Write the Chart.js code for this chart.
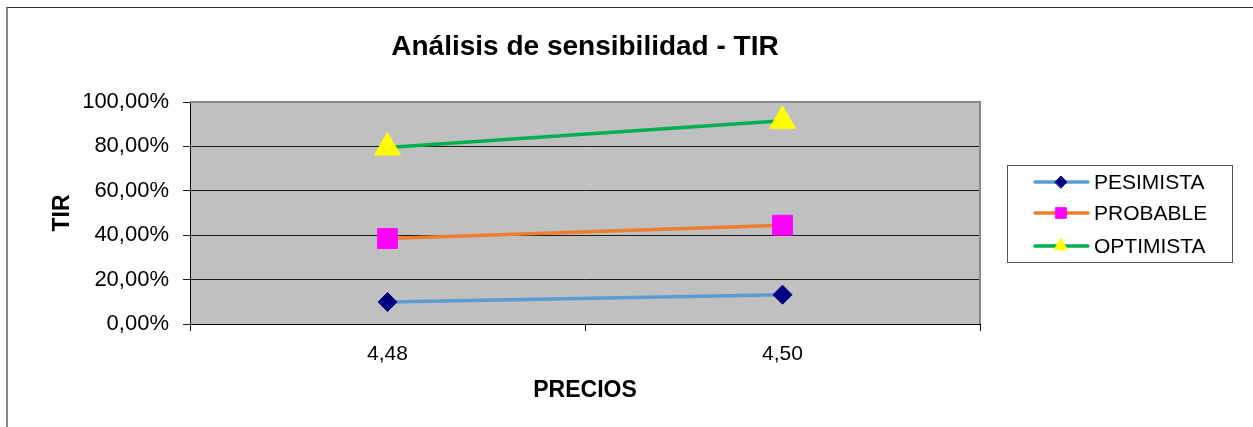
<!DOCTYPE html>
<html>
<head>
<meta charset="utf-8">
<script src="https://cdn.jsdelivr.net/npm/chart.js@4.4.0/dist/chart.umd.min.js"></script>
<style>
  html, body { margin: 0; padding: 0; background: #fff; }
  #wrap { position: relative; width: 1253px; height: 427px; overflow: hidden; }
  #frame { position: absolute; left: 6px; top: 7px; width: 1400px; height: 600px;
           border-left: 2px solid #8a8a8a; border-top: 1px solid #333; }
  #chart { position: absolute; left: 0; top: 0; }
</style>
</head>
<body>
<div id="wrap">
  <div id="frame"></div>
  <canvas id="chart" width="1253" height="427"></canvas>
</div>
<script>
(function () {
  'use strict';

  // data (percent)
  var categories = ['4,48', '4,50'];
  var seriesNames = ['PESIMISTA', 'PROBABLE', 'OPTIMISTA'];
  var pesimista = [9.9, 13.2];
  var probable = [38.5, 44.5];
  var optimista = [79.5, 91.5];
  var yTicks = [0, 20, 40, 60, 80, 100];
  var chartTitle = 'Análisis de sensibilidad - TIR';

  var FONT = "Arial, 'Liberation Sans', sans-serif";

  var styles = [
    { line: '#5b9bd5', marker: '#000080', shape: 'rectRot', r: 9.5 },
    { line: '#ed7d31', marker: '#ff00ff', shape: 'rect', r: 14 },
    { line: '#00b050', marker: '#ffff00', shape: 'triangle', r: 15 }
  ];
  var values = [pesimista, probable, optimista];

  function fmtPct(v) {
    return v.toFixed(2).replace('.', ',') + '%';
  }

  var datasets = seriesNames.map(function (name, i) {
    var s = styles[i];
    return {
      label: name,
      data: values[i],
      borderColor: s.line,
      borderWidth: 3.5,
      backgroundColor: s.marker,
      pointStyle: s.shape,
      pointRadius: s.r,
      pointHoverRadius: s.r,
      pointBackgroundColor: s.marker,
      pointBorderColor: s.marker,
      pointBorderWidth: 1,
      tension: 0
    };
  });

  // grey plot area with its border, and the title centred over it
  var plotArea = {
    id: 'plotArea',
    beforeDraw: function (chart) {
      var a = chart.chartArea, ctx = chart.ctx;
      ctx.save();
      ctx.fillStyle = '#c0c0c0';
      ctx.fillRect(a.left, a.top, a.right - a.left, a.bottom - a.top);
      ctx.fillStyle = '#000';
      ctx.font = 'bold 28px ' + FONT;
      ctx.textAlign = 'center';
      ctx.textBaseline = 'alphabetic';
      ctx.fillText(chartTitle, (a.left + a.right) / 2, 55);
      ctx.restore();
    },
    beforeDatasetsDraw: function (chart) {
      var a = chart.chartArea, ctx = chart.ctx;
      ctx.save();
      ctx.strokeStyle = '#8a8a8a';
      ctx.lineWidth = 2;
      ctx.beginPath();
      ctx.moveTo(a.left, a.top);
      ctx.lineTo(a.right, a.top);
      ctx.lineTo(a.right, a.bottom);
      ctx.stroke();
      ctx.restore();
    }
  };

  // Excel-like legend: line with marker in the middle
  var excelLegend = {
    id: 'excelLegend',
    afterDraw: function (chart) {
      var ctx = chart.ctx;
      var bx = 1007, by = 165, bw = 225, bh = 97;
      ctx.save();
      ctx.fillStyle = '#fff';
      ctx.fillRect(bx, by, bw, bh);
      ctx.strokeStyle = '#555';
      ctx.lineWidth = 1;
      ctx.strokeRect(bx + 0.5, by + 0.5, bw, bh);
      var rows = [182, 213, 246];
      chart.data.datasets.forEach(function (ds, i) {
        var y = rows[i];
        ctx.strokeStyle = ds.borderColor;
        ctx.lineWidth = 3.5;
        ctx.lineCap = 'round';
        ctx.beginPath();
        ctx.moveTo(1035, y);
        ctx.lineTo(1088, y);
        ctx.stroke();
        ctx.fillStyle = ds.pointBackgroundColor;
        ctx.strokeStyle = ds.pointBorderColor;
        ctx.lineWidth = 1;
        Chart.helpers.drawPoint(ctx, { pointStyle: ds.pointStyle, radius: i === 0 ? 6 : 7.5, borderWidth: 1 }, 1061, y);
        ctx.fillStyle = '#000';
        ctx.font = '21px ' + FONT;
        ctx.textBaseline = 'middle';
        ctx.textAlign = 'left';
        ctx.fillText(ds.label, 1094, y + 1);
      });
      ctx.restore();
    }
  };

  new Chart(document.getElementById('chart'), {
    type: 'line',
    data: { labels: categories, datasets: datasets },
    plugins: [plotArea, excelLegend],
    options: {
      responsive: false,
      animation: false,
      layout: { padding: { left: 45, right: 273, top: 102, bottom: 22 } },
      plugins: {
        legend: { display: false },
        tooltip: { enabled: false },
        title: { display: false }
      },
      scales: {
        x: {
          type: 'category',
          offset: true,
          afterFit: function (s) { s.height = 81; },
          grid: { display: true, drawOnChartArea: false, offset: true, color: '#000', tickLength: 7 },
          border: { color: '#000', width: 1 },
          ticks: { color: '#000', padding: 11, font: { family: FONT, size: 21 } },
          title: {
            display: true, text: 'PRECIOS', color: '#000',
            font: { family: FONT, size: 23, weight: 'bold' },
            padding: { top: 4, bottom: 1 }
          }
        },
        y: {
          min: 0,
          max: 100,
          afterFit: function (s) { s.width = 145; },
          afterBuildTicks: function (s) { s.ticks = yTicks.map(function (v) { return { value: v }; }); },
          grid: { color: '#1a1a1a', lineWidth: 1, tickLength: 7 },
          border: { color: '#000', width: 1 },
          ticks: {
            color: '#000', padding: 14,
            font: { family: FONT, size: 22 },
            callback: function (v) { return fmtPct(v); }
          },
          title: {
            display: true, text: 'TIR', color: '#000',
            font: { family: FONT, size: 23, weight: 'bold' },
            padding: { top: 4, bottom: 4 }
          }
        }
      }
    }
  });
})();
</script>
</body>
</html>
